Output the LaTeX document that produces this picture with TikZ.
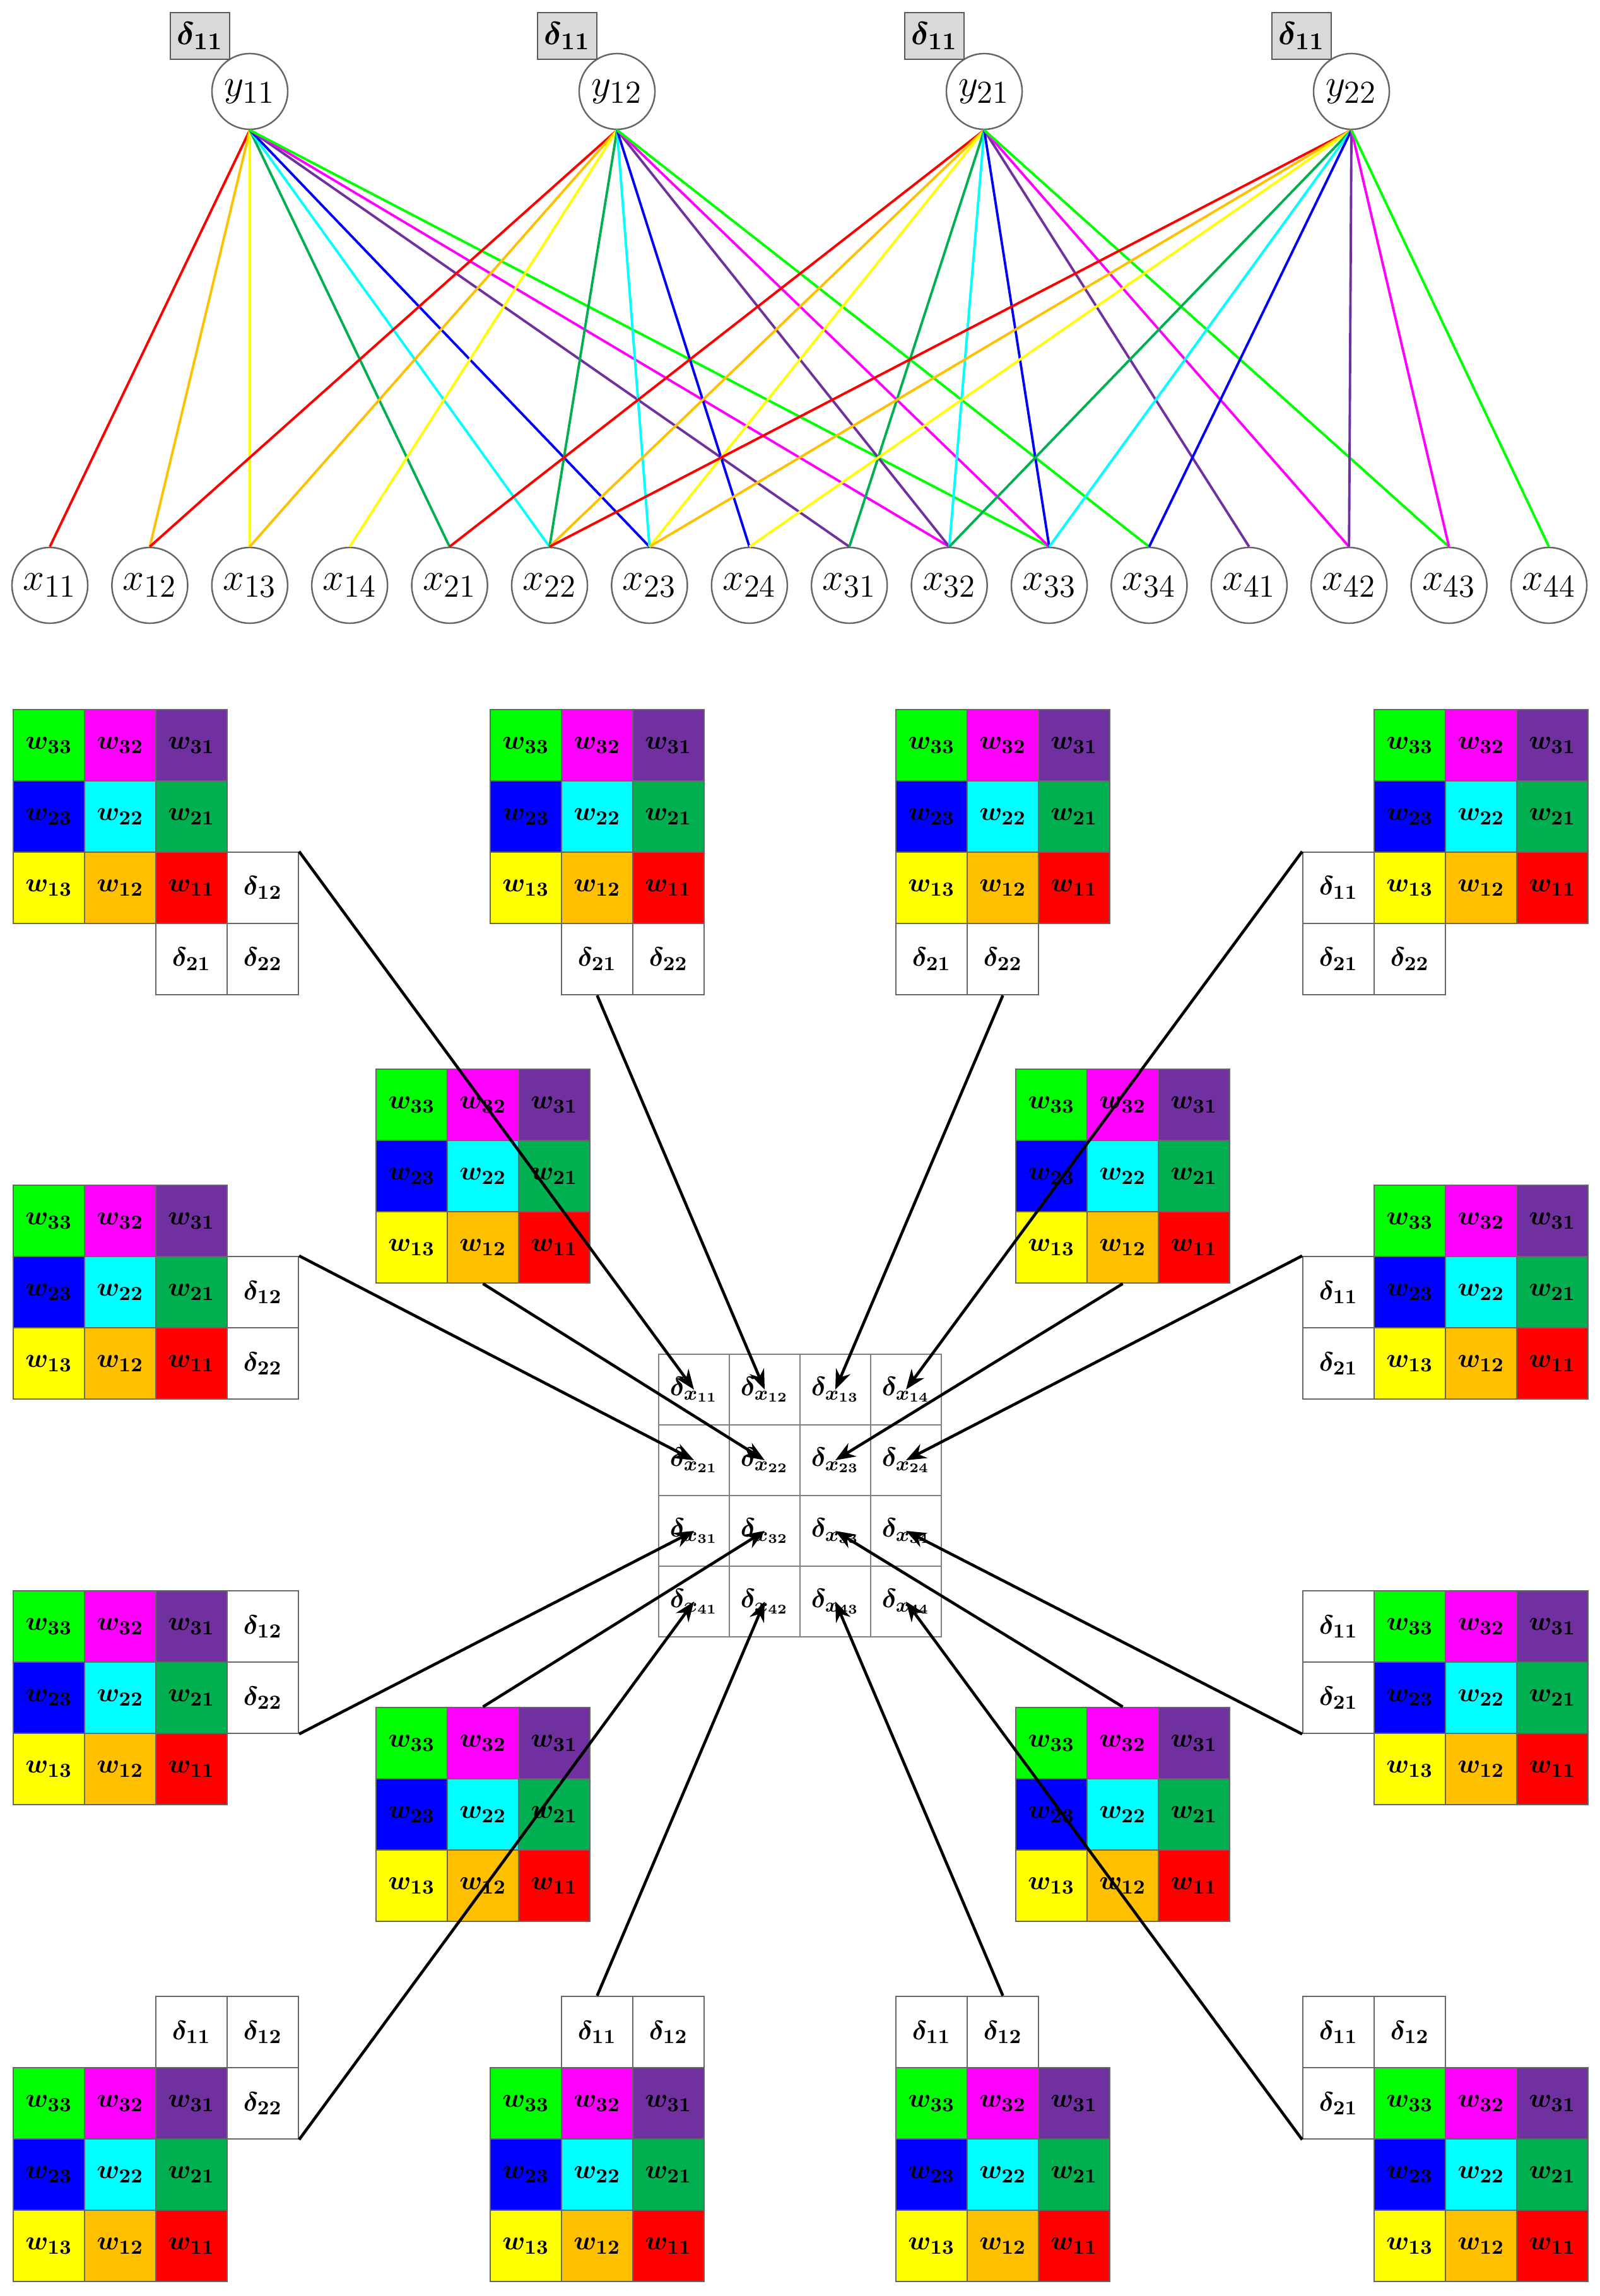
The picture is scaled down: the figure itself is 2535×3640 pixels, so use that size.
\documentclass[tikz,border=0pt]{standalone}
\usepackage{amsmath,bm}
\usetikzlibrary{arrows.meta}
\definecolor{cR}{HTML}{FF0000}
\definecolor{cO}{HTML}{FFC000}
\definecolor{cY}{HTML}{FFFF00}
\definecolor{cD}{HTML}{00B050}
\definecolor{cC}{HTML}{00FFFF}
\definecolor{cB}{HTML}{0000FF}
\definecolor{cP}{HTML}{7030A0}
\definecolor{cM}{HTML}{FF00FF}
\definecolor{cG}{HTML}{00FF00}
\tikzset{
 cell/.style={rectangle,draw=gray!80!black,line width=0.6pt,minimum size=1.13cm,inner sep=0pt,font=\fontsize{13}{15}\selectfont},
 gcell/.style={rectangle,draw=gray,line width=0.6pt,minimum size=1.12cm,inner sep=0pt,font=\fontsize{13}{15}\selectfont},
 xnode/.style={circle,draw=gray!80!black,line width=0.7pt,minimum size=1.2cm,inner sep=0pt,font=\fontsize{19}{21}\selectfont},
 dbox/.style={rectangle,draw=gray!70!black,fill=gray!30,line width=0.7pt,minimum width=0.94cm,minimum height=0.74cm,inner sep=0pt,font=\fontsize{15}{17}\selectfont},
 wl/.style={line width=1.1pt},
 arr/.style={line width=1.3pt,-{Stealth[length=9pt,width=7pt]}}
}
\newcommand\kblock[3]{%
 \foreach \lab/\col [count=\i from 0] in {33/cG,32/cM,31/cP,23/cB,22/cC,21/cD,13/cY,12/cO,11/cR}{%
  \pgfmathtruncatemacro\cc{mod(\i,3)}\pgfmathtruncatemacro\rr{int(\i/3)}%
  \node[cell,fill=\col] (#1-\lab) at ({#2+56.5+113*\cc},{#3+56.5+113*\rr}) {$\bm{w}_{\bm{\lab}}$};}}
\newcommand\dcell[6]{\node[cell,fill=white] (#1-d#6) at ({#2+56.5+113*(#4)},{#3+56.5+113*(#5)}) {$\bm{\delta}_{\bm{#6}}$};}
\begin{document}
\begin{tikzpicture}[x=0.01cm,y=-0.01cm]
\useasboundingbox[fill=white] (0,0) rectangle (2535,3640);
% top network
\foreach \n/\px in {11/396,12/978,21/1560,22/2142}{
 \node[xnode] (y\n) at (\px,145) {$y_{\n}$};
 \node[dbox] (b\n) at (\px-79,57) {$\bm{\delta}_{\bm{11}}$};}
\foreach \n [count=\k from 0] in {11,12,13,14,21,22,23,24,31,32,33,34,41,42,43,44}{
 \node[xnode] (x\n) at ({79+158.4*\k},928) {$x_{\n}$};}
\foreach \y/\a/\b in {11/1/1,12/1/2,21/2/1,22/2/2}{
 \foreach \dr/\dc/\col in {0/0/cR,0/1/cO,0/2/cY,1/0/cD,1/1/cC,1/2/cB,2/0/cP,2/1/cM,2/2/cG}{
  \pgfmathtruncatemacro\xr{\a+\dr}\pgfmathtruncatemacro\xc{\b+\dc}
  \draw[wl,\col] (y\y.south) -- (x\xr\xc.north);}}
% kernels
\kblock{A1}{21}{1125}\dcell{A1}{21}{1125}{3}{2}{12}\dcell{A1}{21}{1125}{2}{3}{21}\dcell{A1}{21}{1125}{3}{3}{22}
\kblock{A2}{777}{1125}\dcell{A2}{777}{1125}{1}{3}{21}\dcell{A2}{777}{1125}{2}{3}{22}
\kblock{A3}{1420}{1125}\dcell{A3}{1420}{1125}{0}{3}{21}\dcell{A3}{1420}{1125}{1}{3}{22}
\kblock{A4}{2178}{1125}\dcell{A4}{2178}{1125}{-1}{2}{11}\dcell{A4}{2178}{1125}{-1}{3}{21}\dcell{A4}{2178}{1125}{0}{3}{22}
\kblock{B1}{596}{1695}
\kblock{B2}{1610}{1695}
\kblock{C1}{21}{1879}\dcell{C1}{21}{1879}{3}{1}{12}\dcell{C1}{21}{1879}{3}{2}{22}
\kblock{C2}{2178}{1879}\dcell{C2}{2178}{1879}{-1}{1}{11}\dcell{C2}{2178}{1879}{-1}{2}{21}
\kblock{D1}{21}{2522}\dcell{D1}{21}{2522}{3}{0}{12}\dcell{D1}{21}{2522}{3}{1}{22}
\kblock{D2}{2178}{2522}\dcell{D2}{2178}{2522}{-1}{0}{11}\dcell{D2}{2178}{2522}{-1}{1}{21}
\kblock{E1}{596}{2707}
\kblock{E2}{1610}{2707}
\kblock{F1}{21}{3278}\dcell{F1}{21}{3278}{2}{-1}{11}\dcell{F1}{21}{3278}{3}{-1}{12}\dcell{F1}{21}{3278}{3}{0}{22}
\kblock{F2}{777}{3278}\dcell{F2}{777}{3278}{1}{-1}{11}\dcell{F2}{777}{3278}{2}{-1}{12}
\kblock{F3}{1420}{3278}\dcell{F3}{1420}{3278}{0}{-1}{11}\dcell{F3}{1420}{3278}{1}{-1}{12}
\kblock{F4}{2178}{3278}\dcell{F4}{2178}{3278}{-1}{-1}{11}\dcell{F4}{2178}{3278}{0}{-1}{12}\dcell{F4}{2178}{3278}{-1}{0}{21}
% center grid
\foreach \r in {1,...,4}{\foreach \c in {1,...,4}{
 \node[gcell] (g\r\c) at ({1044+56+112*(\c-1)},{2147+56+112*(\r-1)}) {$\bm{\delta}_{\bm{x}_{\bm{\r\c}}}$};}}
% arrows
\draw[arr] (A1-d12.north east) -- (g11.center);
\draw[arr] (A2-d21.south) -- (g12.center);
\draw[arr] (A3-d22.south) -- (g13.center);
\draw[arr] (A4-d11.north west) -- (g14.center);
\draw[arr] (C1-d12.north east) -- (g21.center);
\draw[arr] (B1-12.south) -- (g22.center);
\draw[arr] (B2-12.south) -- (g23.center);
\draw[arr] (C2-d11.north west) -- (g24.center);
\draw[arr] (D1-d22.south east) -- (g31.center);
\draw[arr] (E1-32.north) -- (g32.center);
\draw[arr] (E2-32.north) -- (g33.center);
\draw[arr] (D2-d21.south west) -- (g34.center);
\draw[arr] (F1-d22.south east) -- (g41.center);
\draw[arr] (F2-d11.north) -- (g42.center);
\draw[arr] (F3-d12.north) -- (g43.center);
\draw[arr] (F4-d21.south west) -- (g44.center);
\end{tikzpicture}
\end{document}
